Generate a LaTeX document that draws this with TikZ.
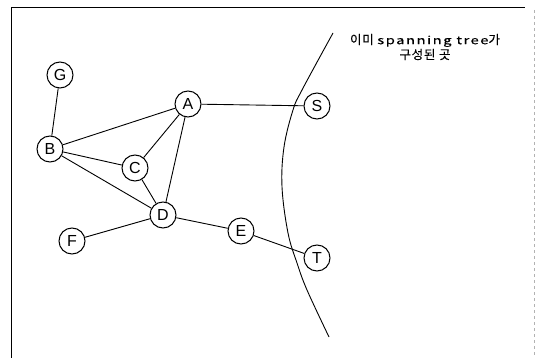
\documentclass[tikz,border=0pt]{standalone}
\usepackage{fontspec}
\setmainfont{Liberation Sans}
\newfontfamily\kr[LetterSpace=6,FakeBold=0.3]{Noto Sans CJK KR}
\newfontfamily\krlat[LetterSpace=10,FakeBold=0.2]{Noto Sans CJK KR}
\begin{document}
\begin{tikzpicture}[x=1pt,y=-1pt,
  vtx/.style={circle,draw,line width=1pt,minimum size=26pt,inner sep=0pt,font=\fontsize{16}{16}\selectfont},
  edge/.style={line width=0.9pt}]
\useasboundingbox (0,0) rectangle (535,358);
% frame
\draw[line width=1.3pt] (11.5,358) -- (11.5,7.5) -- (525,7.5);
\draw[line width=0.4pt,gray!60,dashed] (534,10) -- (534,355);
% nodes
\node[vtx] (G) at (60,75) {G};
\node[vtx] (A) at (188,104) {A};
\node[vtx] (B) at (50,149) {B};
\node[vtx] (C) at (135,168) {C};
\node[vtx] (D) at (163,215) {D};
\node[vtx] (F) at (72,241) {F};
\node[vtx] (E) at (241,231) {E};
\node[vtx] (S) at (317,106) {S};
\node[vtx] (T) at (317,258) {T};
% edges
\draw[edge] (G) -- (B);
\draw[edge] (B) -- (A);
\draw[edge] (B) -- (C);
\draw[edge] (B) -- (D);
\draw[edge] (C) -- (A);
\draw[edge] (C) -- (D);
\draw[edge] (A) -- (D);
\draw[edge] (A) -- (S);
\draw[edge] (D) -- (F);
\draw[edge] (D) -- (E);
\draw[edge] (E) -- (T);
% boundary curve
\draw[line width=0.9pt] plot[smooth,tension=0.6] coordinates {(333,33) (302,90) (293,110) (284,147) (282,187) (288,233) (297,263) (307,290) (329,337)};
% label
\node[font=\kr\fontsize{12.5}{15}\selectfont,align=center,inner sep=0pt] (lbl) at (425,47) {이미 \scalebox{1.35}[1]{\krlat\fontsize{11}{15}\selectfont spanning tree}가\\구성된 곳};
\end{tikzpicture}
\end{document}
